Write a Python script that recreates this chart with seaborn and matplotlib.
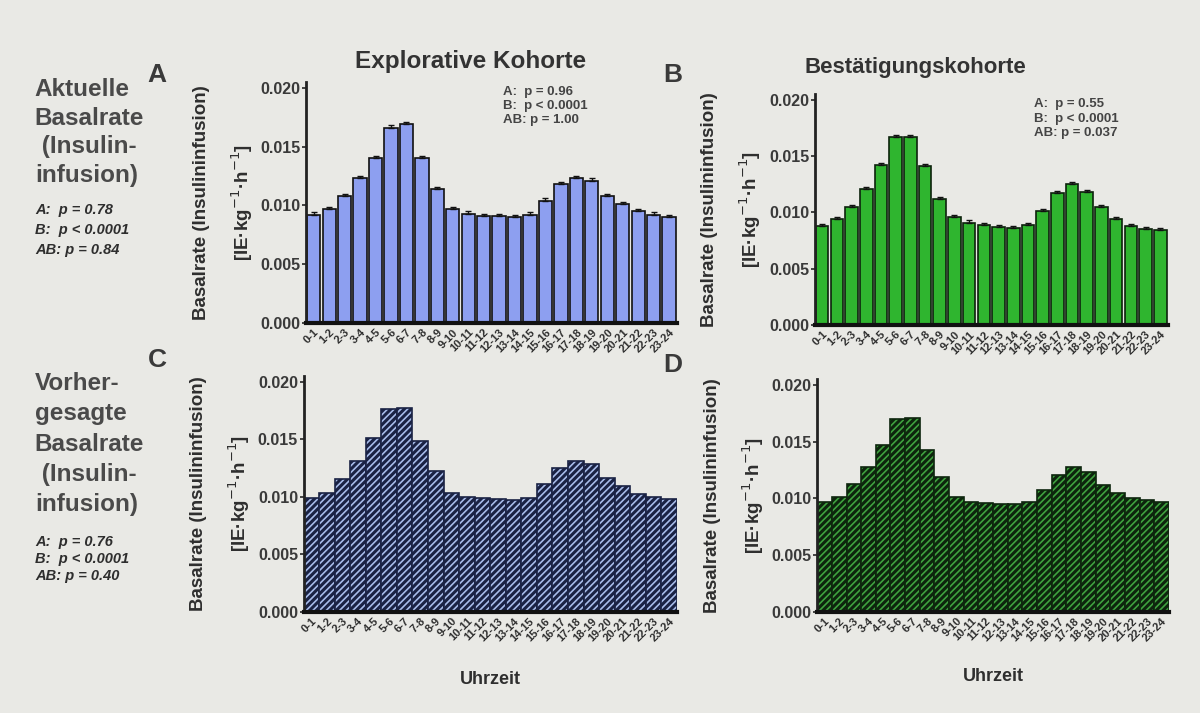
import numpy as np
import pandas as pd
import seaborn as sns
import matplotlib.pyplot as plt

# hourly basal rates (IE/kg/h)
hours = [f"{h}-{h + 1}" for h in range(24)]

explorativ_aktuell = [0.0092, 0.0097, 0.0108, 0.0123, 0.0140, 0.0166, 0.0169, 0.0140, 0.0114, 0.0097,
                      0.0093, 0.0091, 0.0091, 0.0090, 0.0092, 0.0104, 0.0118, 0.0123, 0.0121, 0.0108,
                      0.0101, 0.0095, 0.0092, 0.0090]
bestaetigung_aktuell = [0.0088, 0.0094, 0.0105, 0.0121, 0.0142, 0.0167, 0.0167, 0.0141, 0.0112, 0.0096,
                        0.0091, 0.0089, 0.0087, 0.0086, 0.0089, 0.0101, 0.0117, 0.0125, 0.0118, 0.0105,
                        0.0094, 0.0088, 0.0085, 0.0084]
explorativ_vorhergesagt = [0.0099, 0.0103, 0.0115, 0.0131, 0.0151, 0.0176, 0.0177, 0.0148, 0.0122, 0.0103,
                           0.0100, 0.0099, 0.0098, 0.0097, 0.0099, 0.0111, 0.0125, 0.0131, 0.0128, 0.0116,
                           0.0109, 0.0102, 0.0100, 0.0098]
bestaetigung_vorhergesagt = [0.0097, 0.0101, 0.0113, 0.0128, 0.0147, 0.0170, 0.0171, 0.0143, 0.0119, 0.0101,
                             0.0097, 0.0096, 0.0095, 0.0095, 0.0097, 0.0107, 0.0121, 0.0128, 0.0123, 0.0112,
                             0.0105, 0.0100, 0.0099, 0.0097]
sem_aktuell = [0.0002] * 24

p_left_top = "A:  p = 0.78\nB:  p < 0.0001\nAB: p = 0.84"
p_left_bottom = "A:  p = 0.76\nB:  p < 0.0001\nAB: p = 0.40"
p_panel_a = "A:  p = 0.96\nB:  p < 0.0001\nAB: p = 1.00"
p_panel_b = "A:  p = 0.55\nB:  p < 0.0001\nAB: p = 0.037"

sns.set_style("ticks")
plt.rcParams['font.family'] = ['Liberation Sans', 'DejaVu Sans']
plt.rcParams['hatch.linewidth'] = 2.2

bg = "#e9e9e5"
txt = "#2e2e2e"
ylab = "Basalrate (Insulininfusion)\n[IE·kg$^{-1}$·h$^{-1}$]"

fig = plt.figure(figsize=(12, 7.13), dpi=100, facecolor=bg)

panels = [
    # rect, values, face, edge, hatch, width, errors
    ([0.255, 0.547, 0.309, 0.338], explorativ_aktuell, "#8d9ff0", "#111111", None, 0.86, True),
    ([0.679, 0.544, 0.294, 0.324], bestaetigung_aktuell, "#2fb52f", "#0c220c", None, 0.86, True),
    ([0.253, 0.142, 0.311, 0.331], explorativ_vorhergesagt, "#a8bcea", "#1a2244", "/////", 1.0, False),
    ([0.681, 0.142, 0.293, 0.326], bestaetigung_vorhergesagt, "#3fa23f", "#0d250d", "/////", 1.0, False),
]

axes = []
for rect, vals, face, edge, hatch, w, err in panels:
    ax = fig.add_axes(rect)
    ax.set_facecolor(bg)
    df = pd.DataFrame({"Uhrzeit": hours, "Rate": vals})
    sns.barplot(data=df, x="Uhrzeit", y="Rate", ax=ax, color=face, saturation=1,
                edgecolor=edge, linewidth=1.2, width=w, hatch=hatch)
    if err:
        ax.errorbar(range(24), vals, yerr=[[0] * 24, sem_aktuell], fmt="none",
                    ecolor="#111111", elinewidth=1, capsize=2.5, capthick=1)
    ax.set_xlim(-0.5, 23.5)
    ax.set_ylim(0, 0.0205)
    ax.set_yticks([0.0, 0.005, 0.010, 0.015, 0.020])
    ax.set_yticklabels(["0.000", "0.005", "0.010", "0.015", "0.020"],
                       fontweight="bold", fontsize=11.5, color="#3a3a3a")
    ax.set_xticks(range(24))
    ax.set_xticklabels(hours, rotation=45, ha="right", rotation_mode="anchor",
                       fontsize=8, fontweight="bold", color=txt)
    ax.tick_params(axis="x", length=0, pad=3)
    ax.tick_params(axis="y", length=3, width=1.2, pad=1)
    sns.despine(ax=ax)
    ax.spines["left"].set_linewidth(2)
    ax.spines["bottom"].set_linewidth(3)
    ax.spines["left"].set_color("#222222")
    ax.spines["bottom"].set_color("#111111")
    ax.set_ylabel(ylab, fontsize=13.5, fontweight="bold", color=txt, labelpad=4, linespacing=2.0)
    ax.set_xlabel("")
    axes.append(ax)

axes[2].set_xlabel("Uhrzeit", fontsize=13, fontweight="bold", color=txt, labelpad=20)
axes[3].set_xlabel("Uhrzeit", fontsize=13, fontweight="bold", color=txt, labelpad=18)

# headers and panel letters
fig.text(0.392, 0.905, "Explorative Kohorte", ha="center", fontsize=17.5, fontweight="bold", color="#333333")
fig.text(0.763, 0.897, "Bestätigungskohorte", ha="center", fontsize=16, fontweight="bold", color="#333333")
for x, y, s in [(0.123, 0.885, "A"), (0.553, 0.885, "B"), (0.123, 0.485, "C"), (0.553, 0.478, "D")]:
    fig.text(x, y, s, fontsize=19, fontweight="bold", color="#3a3a3a")

# left side row descriptions
fig.text(0.029, 0.890, "Aktuelle\nBasalrate\n (Insulin-\ninfusion)", va="top", ha="left",
         multialignment="left", fontsize=17.5, fontweight="bold", color="#4a4a4a", linespacing=1.3)
fig.text(0.029, 0.715, p_left_top, va="top", ha="left", multialignment="left", fontsize=10.5,
         fontweight="bold", fontstyle="italic", color=txt, linespacing=1.55)
fig.text(0.029, 0.478, "Vorher-\ngesagte\nBasalrate\n (Insulin-\ninfusion)", va="top", ha="left",
         multialignment="left", fontsize=17.5, fontweight="bold", color="#4a4a4a", linespacing=1.4)
fig.text(0.029, 0.250, p_left_bottom, va="top", ha="left", multialignment="left", fontsize=10.5,
         fontweight="bold", fontstyle="italic", color=txt, linespacing=1.3)

# p-values inside the top panels
fig.text(0.419, 0.880, p_panel_a, va="top", ha="left", multialignment="left", fontsize=9.5,
         fontweight="bold", color="#444444", linespacing=1.25)
fig.text(0.862, 0.862, p_panel_b, va="top", ha="left", multialignment="left", fontsize=9.5,
         fontweight="bold", color="#444444", linespacing=1.25)

plt.savefig("out.png", dpi=100, facecolor=bg)
